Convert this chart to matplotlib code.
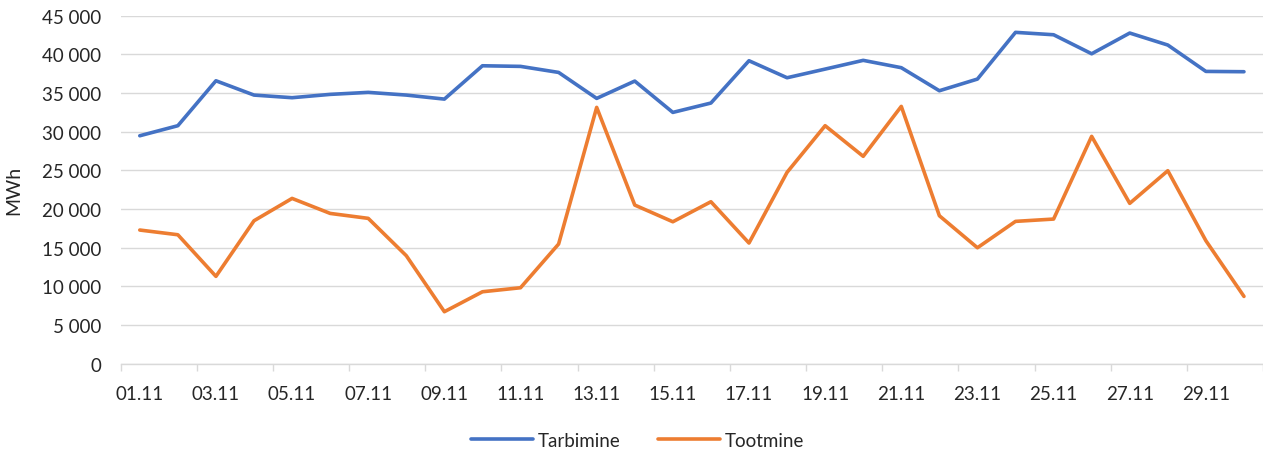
import matplotlib
matplotlib.use("Agg")
import matplotlib.pyplot as plt
from matplotlib.ticker import FuncFormatter, FixedLocator

dates = [f"{d:02d}.11" for d in range(1, 31)]
tarbimine = [29480, 30780, 36590, 34740, 34400, 34830, 35090, 34740, 34220, 38530,
             38450, 37670, 34310, 36550, 32500, 33710, 39180, 36980, 38100, 39230,
             38280, 35300, 36810, 42850, 42540, 40080, 42760, 41210, 37800, 37760]
tootmine = [17290, 16680, 11300, 18490, 21380, 19440, 18800, 13970, 6730, 9310,
            9830, 15480, 33150, 20520, 18360, 20950, 15610, 24750, 30780, 26820,
            33280, 19140, 15000, 18410, 18710, 29400, 20740, 24960, 15910, 8710]
series_names = ["Tarbimine", "Tootmine"]
colors = ["#4472C4", "#ED7D31"]
y_ticks = list(range(0, 45001, 5000))

plt.rcParams['font.family'] = ['Lato', 'DejaVu Sans']
fig = plt.figure(figsize=(12.63, 4.52), dpi=100)
ax = fig.add_axes([0.0956, 0.193, 0.9044, 0.770])

x = list(range(len(dates)))
for vals, name, c in zip([tarbimine, tootmine], series_names, colors):
    ax.plot(x, vals, color=c, lw=2.6, label=name, solid_joinstyle='round', solid_capstyle='round', zorder=3)

ax.set_xlim(-0.5, len(dates) - 0.5)
ax.set_ylim(0, 45000)
ax.set_yticks(y_ticks)
ax.yaxis.set_major_formatter(FuncFormatter(lambda v, p: f"{int(v):,}".replace(",", " ")))
ax.grid(axis='y', color='#d9d9d9', lw=1.0, zorder=0)
ax.set_axisbelow(True)

ax.set_xticks(x[::2])
ax.set_xticklabels(dates[::2])
ax.xaxis.set_minor_locator(FixedLocator([i - 0.5 for i in range(0, len(dates) + 1, 2)]))
ax.tick_params(axis='x', which='major', length=0, pad=15, labelsize=13.5, colors='#262626')
ax.tick_params(axis='x', which='minor', length=5, color='#d9d9d9', width=1)
ax.tick_params(axis='y', length=0, pad=14, labelsize=13.5, colors='#262626')

for s in ['top', 'right', 'left']:
    ax.spines[s].set_visible(False)
ax.spines['bottom'].set_color('#d9d9d9')
ax.spines['bottom'].set_linewidth(1.0)

ax.set_ylabel("MWh", fontsize=14, color='#262626')
ax.yaxis.set_label_coords(-0.086, 0.5)

fig.legend(loc='center', bbox_to_anchor=(0.505, 0.024), ncol=2, frameon=False,
           fontsize=13.5, handlelength=3.3, handletextpad=0.25, columnspacing=2.0,
           labelcolor='#262626')

fig.savefig("out.png", dpi=100)
